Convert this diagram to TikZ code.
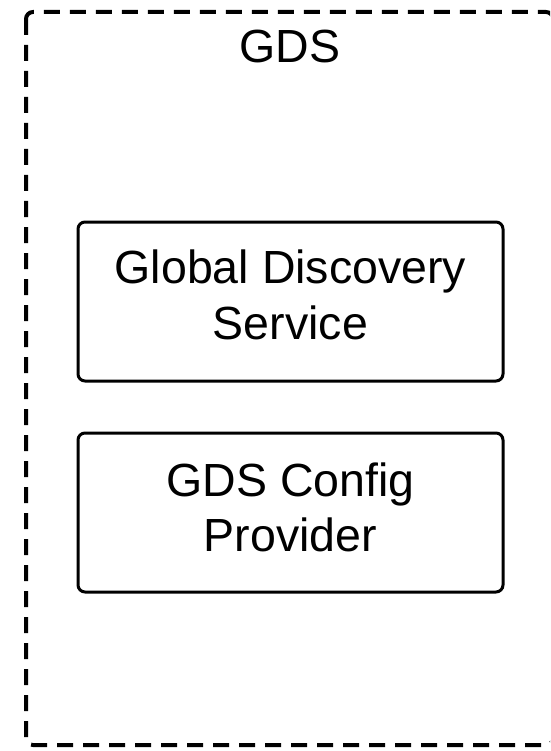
\documentclass[tikz,border=0pt]{standalone}
\usepackage{fontspec}
\setmainfont{Liberation Sans}
\begin{document}
\begin{tikzpicture}[x=1pt,y=1pt,
  lbl/.style={font=\fontsize{46.5}{56}\selectfont, align=center, inner sep=0pt},
  compbox/.style={draw, line width=3pt, rounded corners=7pt, minimum width=425pt, minimum height=159pt, inner sep=0pt},
  outer/.style={draw, line width=4pt, dash pattern=on 16pt off 10pt, rounded corners=7pt}]
\useasboundingbox (0,0) rectangle (550,-751);
\begin{scope}
\clip (0,0) rectangle (550,-751);
\draw[outer] (26,-12) rectangle (553,-745);
\end{scope}
\node[lbl, anchor=base] (title) at (290,-63) {GDS};
\node[compbox] (gds) at (290.5,-301.5) {};
\node[lbl, anchor=base] (gdst1) at (290.5,-283) {Global Discovery};
\node[lbl, anchor=base] (gdst2) at (290.5,-339) {Service};
\node[compbox] (cfg) at (290.5,-512.5) {};
\node[lbl, anchor=base] (cfgt1) at (290.5,-496) {GDS Config};
\node[lbl, anchor=base] (cfgt2) at (290.5,-551) {Provider};
\end{tikzpicture}
\end{document}
